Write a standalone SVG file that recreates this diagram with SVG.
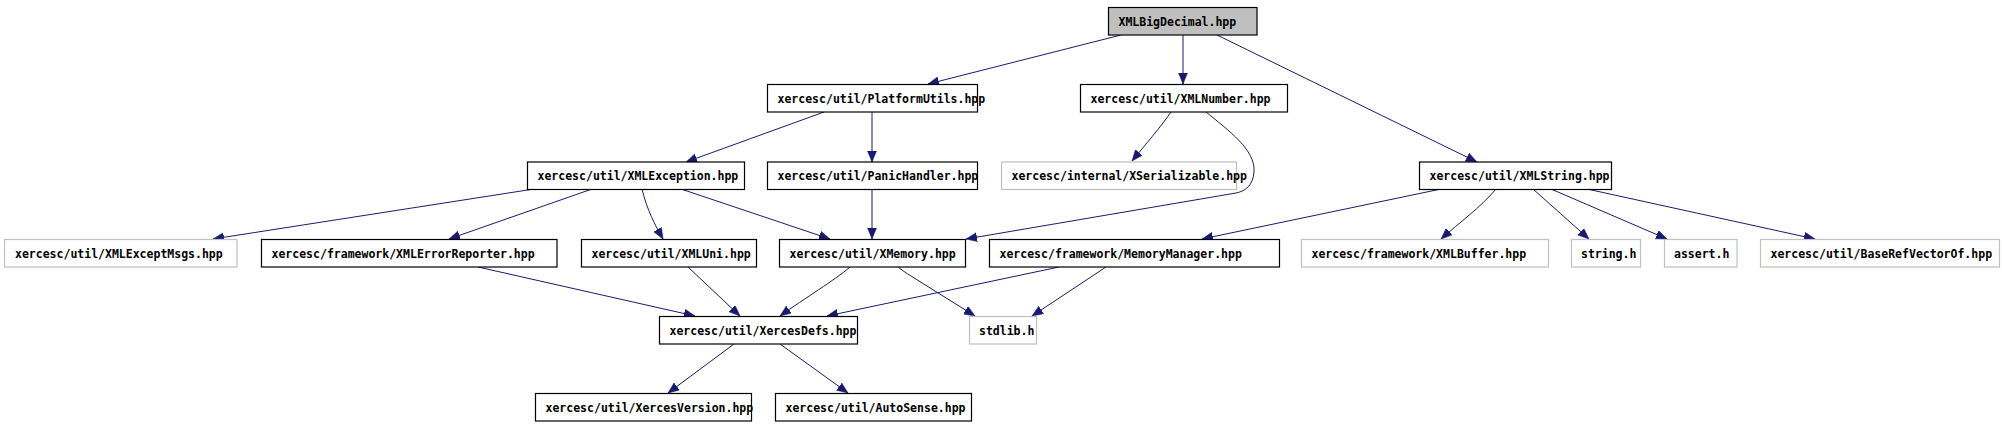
<svg xmlns="http://www.w3.org/2000/svg" width="2002" height="426" viewBox="0 0 2002 426">
<style>
.n rect{fill:#ffffff;stroke:#000000;stroke-width:1.2}
.n.g rect{stroke:#bfbfbf}
.n.top rect{fill:#bfbfbf}
.n text{font-family:"DejaVu Sans Mono","Liberation Mono",monospace;font-size:11.5px;font-weight:bold;fill:#000000}
.e path{fill:none;stroke:#191970;stroke-width:1}
</style>
<defs>
<marker id="ah" markerUnits="userSpaceOnUse" markerWidth="12" markerHeight="10" refX="11" refY="4.5" orient="auto">
<path d="M0,0 L11,4.5 L0,9 z" fill="#191970" stroke="#191970" stroke-width="0.5"/>
</marker>
</defs>
<rect width="2002" height="426" fill="#ffffff"/>
<g id="connectors" class="e">
<path marker-end="url(#ah)" d="M1121,35 L928,84"/>
<path marker-end="url(#ah)" d="M1183,35 L1183,84"/>
<path marker-end="url(#ah)" d="M1217,35 L1477,162"/>
<path marker-end="url(#ah)" d="M824,112 L686,162"/>
<path marker-end="url(#ah)" d="M872,112 L872,162"/>
<path marker-end="url(#ah)" d="M1171,112 C1160,128 1145,145 1132,161"/>
<path marker-end="url(#ah)" d="M1206,112 C1228,130 1256,150 1254,172 C1253,185 1246,191 1236,193 L966,239"/>
<path marker-end="url(#ah)" d="M534,189 L213,239"/>
<path marker-end="url(#ah)" d="M592,189 L449,239"/>
<path marker-end="url(#ah)" d="M642,189 C647,210 655,225 663,239"/>
<path marker-end="url(#ah)" d="M681,189 L830,239"/>
<path marker-end="url(#ah)" d="M872,189 L872,239"/>
<path marker-end="url(#ah)" d="M1441,189 L1202,239"/>
<path marker-end="url(#ah)" d="M1496,189 C1480,208 1460,222 1441,239"/>
<path marker-end="url(#ah)" d="M1533,189 L1589,239"/>
<path marker-end="url(#ah)" d="M1551,189 L1667,239"/>
<path marker-end="url(#ah)" d="M1587,189 L1815,239"/>
<path marker-end="url(#ah)" d="M478,267 L695,316"/>
<path marker-end="url(#ah)" d="M688,267 L740,316"/>
<path marker-end="url(#ah)" d="M850,267 C835,280 805,298 780,316"/>
<path marker-end="url(#ah)" d="M898,267 C902,270 906,273 911,276 L975,316"/>
<path marker-end="url(#ah)" d="M1059,267 L827,316"/>
<path marker-end="url(#ah)" d="M1106,267 L1032,316"/>
<path marker-end="url(#ah)" d="M734,344 L668,393"/>
<path marker-end="url(#ah)" d="M780,344 L848,393"/>
</g>
<g id="XMLBigDecimal" class="n top"><rect x="1108.5" y="7.5" width="148.5" height="27.5"/><text x="1118.5" y="25.5">XMLBigDecimal.hpp</text></g>
<g id="PlatformUtils" class="n"><rect x="767.5" y="84.5" width="210" height="27.5"/><text x="777.5" y="102.5">xercesc/util/PlatformUtils.hpp</text></g>
<g id="XMLNumber" class="n"><rect x="1080.5" y="84.5" width="207" height="27.5"/><text x="1090.5" y="102.5">xercesc/util/XMLNumber.hpp</text></g>
<g id="XMLException" class="n"><rect x="527.5" y="162" width="217" height="27.5"/><text x="537.5" y="180">xercesc/util/XMLException.hpp</text></g>
<g id="PanicHandler" class="n"><rect x="767.5" y="162" width="210" height="27.5"/><text x="777.5" y="180">xercesc/util/PanicHandler.hpp</text></g>
<g id="XSerializable" class="n g"><rect x="1001.5" y="162" width="235" height="27.5"/><text x="1011.5" y="180">xercesc/internal/XSerializable.hpp</text></g>
<g id="XMLString" class="n"><rect x="1419.5" y="162" width="192" height="27.5"/><text x="1429.5" y="180">xercesc/util/XMLString.hpp</text></g>
<g id="XMLExceptMsgs" class="n g"><rect x="4.5" y="239.5" width="232.5" height="27.5"/><text x="15" y="257.5">xercesc/util/XMLExceptMsgs.hpp</text></g>
<g id="XMLErrorReporter" class="n"><rect x="261.5" y="239.5" width="295.5" height="27.5"/><text x="271.5" y="257.5">xercesc/framework/XMLErrorReporter.hpp</text></g>
<g id="XMLUni" class="n"><rect x="581.5" y="239.5" width="175" height="27.5"/><text x="591.5" y="257.5">xercesc/util/XMLUni.hpp</text></g>
<g id="XMemory" class="n"><rect x="779.5" y="239.5" width="186" height="27.5"/><text x="789.5" y="257.5">xercesc/util/XMemory.hpp</text></g>
<g id="MemoryManager" class="n"><rect x="989.5" y="239.5" width="290" height="27.5"/><text x="999.5" y="257.5">xercesc/framework/MemoryManager.hpp</text></g>
<g id="XMLBuffer" class="n g"><rect x="1301.5" y="239.5" width="247" height="27.5"/><text x="1311.5" y="257.5">xercesc/framework/XMLBuffer.hpp</text></g>
<g id="string_h" class="n g"><rect x="1571.5" y="239.5" width="69" height="27.5"/><text x="1581" y="257.5">string.h</text></g>
<g id="assert_h" class="n g"><rect x="1664.5" y="239.5" width="72.5" height="27.5"/><text x="1674" y="257.5">assert.h</text></g>
<g id="BaseRefVectorOf" class="n g"><rect x="1760.5" y="239.5" width="239" height="27.5"/><text x="1770.5" y="257.5">xercesc/util/BaseRefVectorOf.hpp</text></g>
<g id="XercesDefs" class="n"><rect x="659.5" y="316.5" width="198" height="27.5"/><text x="669.5" y="334.5">xercesc/util/XercesDefs.hpp</text></g>
<g id="stdlib_h" class="n g"><rect x="969.5" y="316.5" width="67" height="27.5"/><text x="979" y="334.5">stdlib.h</text></g>
<g id="XercesVersion" class="n"><rect x="535.5" y="393.5" width="216" height="27.5"/><text x="545.5" y="411.5">xercesc/util/XercesVersion.hpp</text></g>
<g id="AutoSense" class="n"><rect x="775.5" y="393.5" width="196" height="27.5"/><text x="785.5" y="411.5">xercesc/util/AutoSense.hpp</text></g>
</svg>
